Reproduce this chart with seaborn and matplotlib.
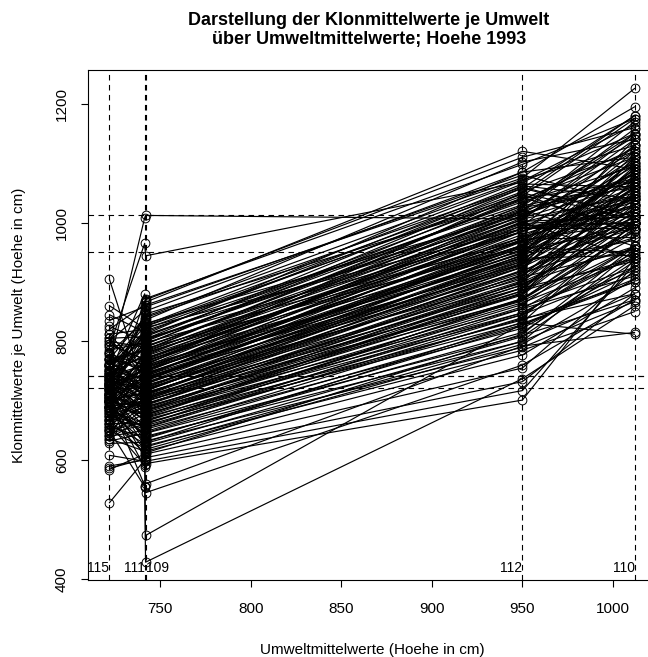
import pandas as pd
import seaborn as sns
import matplotlib.pyplot as plt


# Umwelten (Versuchsorte) und ihre Mittelwerte
env_names = ['115', '111', '109', '112', '110']
env_means = [722.0, 741.5, 742.0, 950.0, 1012.0]
env_align = ['right', 'right', 'left', 'right', 'right']

# Klonmittelwerte je Umwelt (Hoehe in cm), ein Eintrag je Klon, gleiche Reihenfolge
hoehe_115 = [760, 790, 800, 745, 835, 770, 730, 812, 700, 758,
             845, 690, 785, 726, 820, 752, 740, 800, 715, 768,
             860, 735, 705, 792, 748, 680, 825, 762, 710, 778,
             740, 696, 755, 812, 725, 688, 770, 742, 700, 795,
             728, 660, 750, 718, 782, 676, 736, 805, 712, 764,
             690, 745, 722, 670, 780, 705, 740, 655, 730, 760,
             695, 718, 642, 752, 708, 734, 668, 725, 700, 745,
             683, 712, 690, 735, 650, 714, 675, 705, 640, 728,
             662, 698, 720, 648, 684, 708, 636, 690, 672, 700,
             645, 680, 632, 712, 656, 690, 628, 668, 650, 608,
             584, 700, 586, 660, 700, 528, 590, 650, 760, 725,
             905,
             735, 700, 760, 718, 742, 690, 775, 708, 730, 655,
             748, 712, 680, 738, 702, 665, 725, 692, 710, 650,
             730, 675, 704, 640, 690, 720, 660, 636, 705, 780,
             752, 805, 728, 770, 745, 712, 795, 726, 684, 758,
             720, 770, 698, 742, 668, 735, 700, 722, 685]
hoehe_111 = [1008, 965, 852, 880, 858, 840, 845, 820, 868, 832,
             815, 850, 798, 838, 862, 826, 812, 790, 805, 784,
             822, 818, 777, 796, 808, 770, 801, 787, 815, 760,
             795, 781, 772, 748, 790, 760, 755, 778, 741, 769,
             752, 766, 738, 772, 745, 730, 760, 742, 756, 733,
             750, 727, 745, 730, 718, 740, 722, 712, 735, 706,
             728, 700, 725, 710, 693, 719, 703, 688, 714, 697,
             707, 682, 700, 684, 692, 675, 698, 668, 688, 672,
             660, 690, 655, 678, 662, 650, 672, 645, 652, 640,
             660, 632, 645, 625, 638, 618, 630, 612, 620, 598,
             610, 588, 602, 592, 557, 600, 600, 555, 800, 745,
             720,
             790, 770, 812, 755, 760, 738, 748, 735, 722, 716,
             708, 725, 700, 696, 712, 690, 705, 676, 688, 664,
             680, 658, 668, 650, 642, 632, 628, 615, 605, 835,
             818, 808, 797, 786, 776, 763, 770, 751, 744, 735,
             728, 712, 720, 702, 695, 684, 676, 665, 655]
hoehe_109 = [1012, 944, 872, 866, 861, 870, 851, 846, 840, 836,
             830, 828, 825, 823, 858, 821, 818, 815, 811, 808,
             805, 803, 800, 798, 795, 792, 790, 788, 786, 784,
             782, 781, 778, 775, 772, 770, 768, 765, 763, 760,
             758, 756, 754, 752, 750, 748, 747, 745, 744, 742,
             741, 740, 738, 736, 733, 731, 728, 726, 724, 722,
             720, 718, 716, 714, 712, 710, 708, 706, 705, 703,
             702, 700, 698, 695, 692, 690, 687, 684, 682, 680,
             678, 675, 672, 670, 668, 665, 663, 661, 658, 655,
             652, 648, 645, 640, 636, 632, 628, 624, 618, 615,
             610, 604, 598, 594, 560, 545, 473, 428, 812, 760,
             735,
             802, 780, 795, 772, 766, 752, 746, 739, 734, 729,
             721, 717, 713, 709, 704, 699, 694, 689, 683, 677,
             673, 666, 660, 654, 646, 638, 630, 622, 612, 842,
             826, 810, 804, 791, 785, 776, 769, 762, 757, 751,
             743, 737, 730, 719, 711, 701, 693, 685, 676]
hoehe_112 = [1006, 1068, 1098, 1120, 1075, 1110, 1085, 1040, 1060, 1102,
             1015, 1070, 1048, 990, 1080, 1052, 1030, 1065, 1010, 1045,
             985, 1022, 1038, 970, 1058, 1005, 1028, 960, 1042, 1000,
             1018, 975, 1012, 990, 968, 1025, 952, 1000, 985, 940,
             1008, 962, 990, 948, 975, 1002, 930, 958, 980, 944,
             995, 925, 962, 935, 972, 918, 950, 905, 940, 968,
             910, 932, 955, 898, 925, 945, 890, 918, 880, 935,
             902, 870, 912, 885, 900, 868, 895, 855, 880, 872,
             848, 890, 845, 862, 836, 870, 831, 848, 838, 855,
             822, 840, 810, 800, 826, 790, 808, 785, 795, 777,
             755, 732, 717, 701, 792, 760, 830, 737, 1085, 1050,
             960,
             1020, 995, 1050, 985, 1005, 975, 962, 948, 985, 928,
             955, 942, 915, 930, 925, 895, 908, 878, 900, 865,
             882, 858, 872, 845, 828, 815, 832, 800, 812, 1072,
             1058, 1035, 1062, 1015, 1040, 1028, 998, 1012, 970, 1020,
             990, 958, 970, 945, 938, 920, 912, 890, 885]
hoehe_110 = [1045, 1150, 1175, 1090, 1226, 1160, 1195, 1110, 1010, 1140,
             1070, 1165, 980, 1095, 1030, 1120, 1150, 1060, 1100, 1175,
             1040, 960, 1125, 1085, 1010, 1140, 1068, 1105, 990, 1050,
             1158, 1030, 1080, 1000, 1120, 1060, 1090, 940, 1110, 1020,
             1065, 1130, 990, 1045, 1075, 1010, 1095, 950, 1040, 1115,
             1000, 1060, 1030, 1085, 975, 1010, 1100, 1050, 945, 1020,
             1070, 990, 1040, 960, 1015, 1090, 935, 1000, 1055, 970,
             1025, 985, 1010, 940, 1060, 960, 1000, 910, 1030, 975,
             950, 1040, 920, 990, 900, 1005, 812, 945, 880, 960,
             925, 1000, 870, 955, 915, 867, 935, 850, 905, 890,
             920, 880, 930, 940, 815, 870, 900, 860, 1110, 1180,
             1020,
             1075, 1130, 1005, 1060, 1150, 1035, 1085, 1000, 1045, 1110,
             990, 1065, 975, 1030, 1080, 1000, 955, 1020, 985, 940,
             1050, 925, 995, 960, 905, 940, 1000, 880, 960, 1130,
             1180, 1095, 1040, 1120, 1070, 1145, 1010, 1100, 1055, 1170,
             1025, 1090, 1000, 1140, 1060, 1110, 1045, 1010, 1075]


def build_frame() -> pd.DataFrame:
    """Long format: one row per Klon x Umwelt."""
    columns = [hoehe_115, hoehe_111, hoehe_109, hoehe_112, hoehe_110]
    rows = []
    for mean, werte in zip(env_means, columns):
        for klon, wert in enumerate(werte):
            rows.append({'klon': klon, 'umwelt': mean, 'hoehe': wert})
    return pd.DataFrame(rows)


df = build_frame()

sns.set_theme(style='ticks')
plt.rcParams['font.family'] = ['Liberation Sans', 'DejaVu Sans']
plt.rcParams['text.color'] = 'black'
plt.rcParams['axes.labelcolor'] = 'black'

fig = plt.figure(figsize=(6.48, 6.57), dpi=100)
ax = fig.add_axes([0.1363, 0.1172, 0.8756, 0.7763])

# Reaktionsnormen je Klon
sns.lineplot(data=df, x='umwelt', y='hoehe', units='klon', estimator=None,
             color='black', linewidth=0.85, marker='o', markersize=6.3,
             markerfacecolor='none', markeredgecolor='black',
             markeredgewidth=0.7, ax=ax)

# Bezugslinien an den Umweltmittelwerten
for m in env_means:
    ax.axvline(m, color='black', linewidth=0.8, linestyle=(0, (5, 4)), zorder=1)
    ax.axhline(m, color='black', linewidth=0.8, linestyle=(0, (5, 4)), zorder=1)

for name, m, ha in zip(env_names, env_means, env_align):
    ax.text(m, 418, name, ha=ha, va='center', fontsize=10, color='black')

ax.set_xlim(710.4, 1023.6)
ax.set_ylim(398, 1257)
ax.set_xticks([750, 800, 850, 900, 950, 1000])
ax.set_yticks([400, 600, 800, 1000, 1200])
ax.tick_params(axis='both', labelsize=11, length=5, width=0.8, direction='out',
               color='black', labelcolor='black')
ax.tick_params(axis='x', pad=11)
ax.tick_params(axis='y', pad=9)
for lab in ax.get_yticklabels():
    lab.set_rotation(90)
    lab.set_va('center')
for s in ax.spines.values():
    s.set_color('black')
    s.set_linewidth(0.8)

ax.set_xlabel('Umweltmittelwerte (Hoehe in cm)', fontsize=11, labelpad=19, color='black')
ax.set_ylabel('Klonmittelwerte je Umwelt (Hoehe in cm)', fontsize=11, labelpad=21, color='black')

fig.text(0.569, 0.954, 'Darstellung der Klonmittelwerte je Umwelt\n'
         'über Umweltmittelwerte; Hoehe 1993',
         ha='center', va='center', fontsize=13, fontweight='bold',
         linespacing=1.15, color='black')

fig.savefig('out.png', dpi=100)
